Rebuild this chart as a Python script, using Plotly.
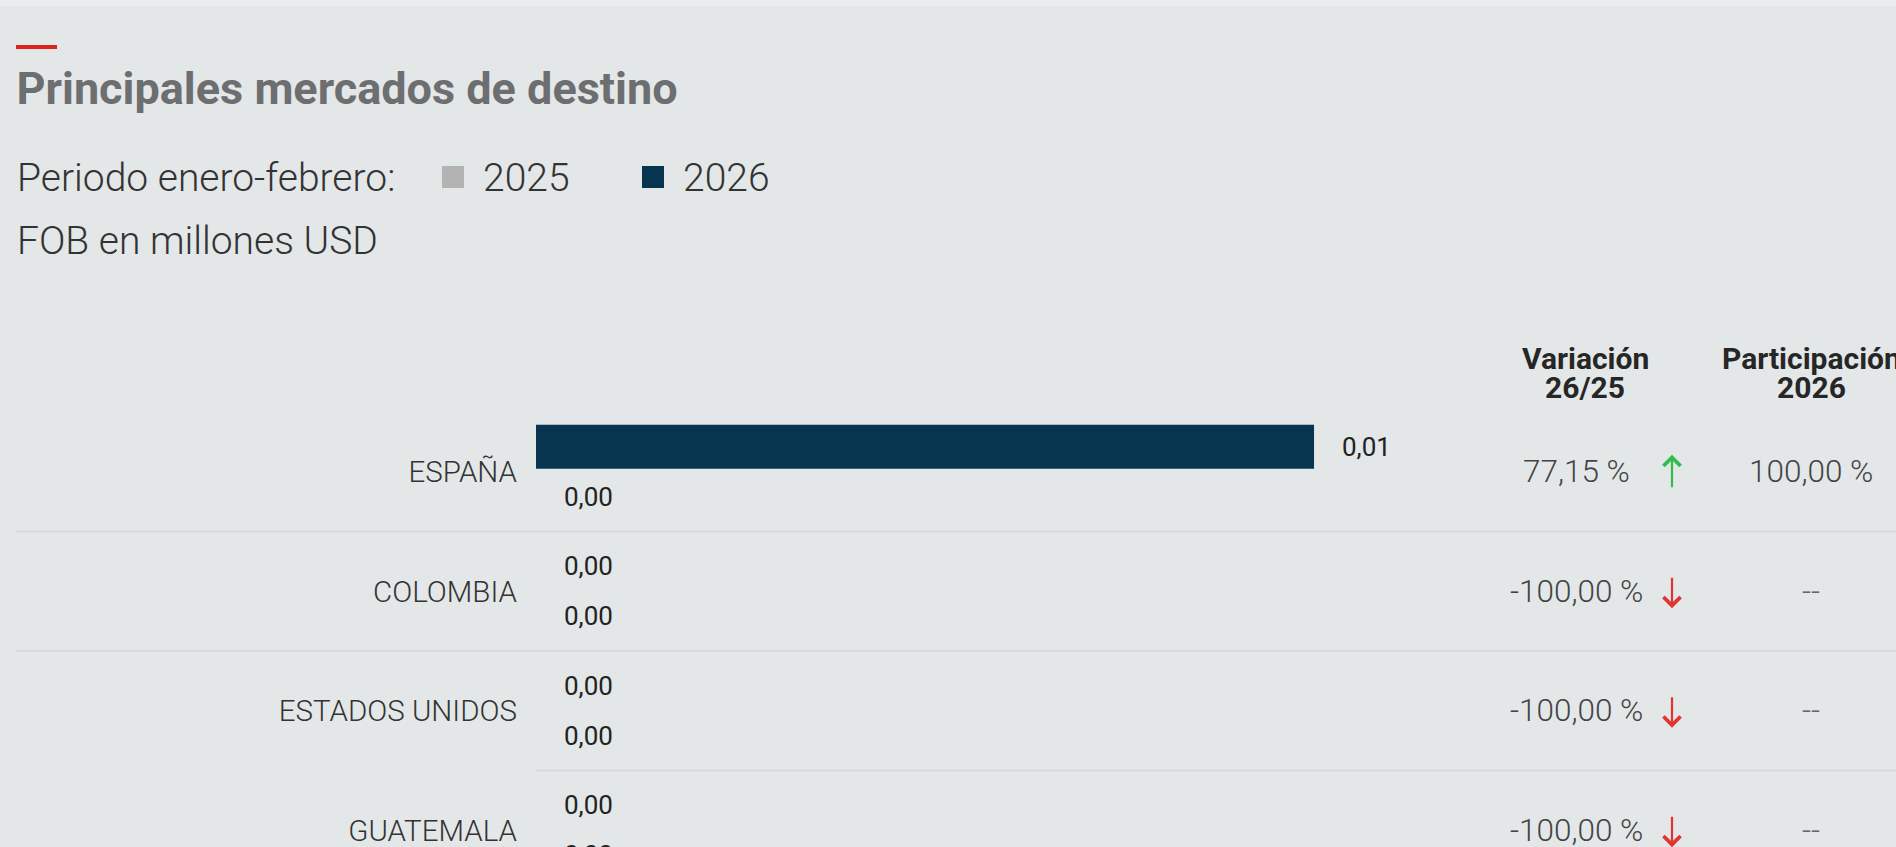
import plotly.graph_objects as go

# ---------------- data ----------------
countries = ["ESPAÑA", "COLOMBIA", "ESTADOS UNIDOS", "GUATEMALA"]
fob_2026 = [0.01, 0.0, 0.0, 0.0]
fob_2025 = [0.0, 0.0, 0.0, 0.0]
variacion = [77.15, -100.00, -100.00, -100.00]
participacion_2026 = [100.00, None, None, None]
years = ["2025", "2026"]

# ---------------- style ----------------
W, H = 1896, 847
TOP = 412
PLOT_H = H - TOP
BG = "#e3e7e8"
NAVY = "#07344f"
GREY = "#b3b3b3"
TXT = "#333333"
FONT = "Roboto"


def px_x(p):
    return p / W


def px_y(p):
    return (H - p) / PLOT_H


def fmt(v, d=2):
    return f"{v:,.{d}f}".replace(",", "X").replace(".", ",").replace("X", ".")


fig = go.Figure()
fig.add_trace(go.Bar(y=countries, x=fob_2026, orientation="h", name=years[1],
                     marker=dict(color=NAVY, line=dict(width=0)),
                     width=0.368, offset=-0.393, hoverinfo="skip"))
fig.add_trace(go.Bar(y=countries, x=fob_2025, orientation="h", name=years[0],
                     marker=dict(color=GREY, line=dict(width=0)),
                     width=0.368, offset=0.025, hoverinfo="skip"))

ann = []
# value labels
for c, v26, v25 in zip(countries, fob_2026, fob_2025):
    for v, ys in ((v26, 25), (v25, -25)):
        ann.append(dict(x=v, y=c, xref="x", yref="y", text=fmt(v), showarrow=False,
                        xanchor="left", yanchor="middle", xshift=26, yshift=ys,
                        font=dict(family=FONT, size=26, color="#222222")))

# variation + participation columns
for c, var, par in zip(countries, variacion, participacion_2026):
    ann.append(dict(x=px_x(1576), y=c, xref="paper", yref="y", text=f"{fmt(var)} %",
                    showarrow=False, xanchor="center", yanchor="middle",
                    font=dict(family=FONT, size=31.5, color="#444444", weight=300)))
    up = var >= 0
    ann.append(dict(x=px_x(1672), y=c, xref="paper", yref="y", text="",
                    showarrow=True, arrowhead=4, arrowsize=1.5, arrowwidth=2.2,
                    arrowcolor="#2ebd4e" if up else "#e3342f",
                    ax=0, ay=34 if up else -32, yshift=17 if up else -17,
                    standoff=0, startstandoff=0))
    ann.append(dict(x=px_x(1811), y=c, xref="paper", yref="y",
                    text=f"{fmt(par)} %" if par is not None else "--",
                    showarrow=False, xanchor="center", yanchor="middle",
                    font=dict(family=FONT, size=31.5,
                              color="#444444" if par is not None else "#666666", weight=300)))

# column headers
for txt, x, y in (("Variación", 1585, 358), ("26/25", 1585, 388),
                  ("Participación", 1811, 358), ("2026", 1811, 388)):
    ann.append(dict(x=px_x(x), y=px_y(y), xref="paper", yref="paper", text=txt,
                    showarrow=False, xanchor="center", yanchor="middle",
                    font=dict(family=FONT, size=30, color="#262626", weight=700)))

# subtitle / legend lines
light = dict(family=FONT, size=39, color=TXT, weight=300)
ann.append(dict(x=px_x(15), y=px_y(178), xref="paper", yref="paper",
                text="Periodo enero-febrero:", showarrow=False,
                xanchor="left", yanchor="middle", font=light))
ann.append(dict(x=px_x(481), y=px_y(178), xref="paper", yref="paper", text=years[0],
                showarrow=False, xanchor="left", yanchor="middle", font=light))
ann.append(dict(x=px_x(681), y=px_y(178), xref="paper", yref="paper", text=years[1],
                showarrow=False, xanchor="left", yanchor="middle", font=light))
ann.append(dict(x=px_x(15), y=px_y(241), xref="paper", yref="paper",
                text="FOB en millones USD", showarrow=False,
                xanchor="left", yanchor="middle", font=light))

shapes = [
    dict(type="rect", xref="paper", yref="paper", x0=0, x1=1, y0=px_y(6), y1=px_y(0),
         fillcolor="#eaeef0", line=dict(width=0), layer="below"),
    dict(type="rect", xref="paper", yref="paper", x0=px_x(16), x1=px_x(57),
         y0=px_y(49), y1=px_y(45), fillcolor="#d9261c", line=dict(width=0)),
    dict(type="rect", xref="paper", yref="paper", x0=px_x(442), x1=px_x(464),
         y0=px_y(188), y1=px_y(166), fillcolor=GREY, line=dict(width=0)),
    dict(type="rect", xref="paper", yref="paper", x0=px_x(642), x1=px_x(664),
         y0=px_y(188), y1=px_y(166), fillcolor=NAVY, line=dict(width=0)),
]
for i, start in ((0.5, 16), (1.5, 16), (2.5, 536)):
    shapes.append(dict(type="line", xref="paper", yref="y", x0=px_x(start), x1=1,
                       y0=i, y1=i, line=dict(color="#d6dadc", width=2), layer="below"))

fig.update_layout(
    width=W, height=H,
    paper_bgcolor=BG, plot_bgcolor=BG,
    margin=dict(l=0, r=0, t=TOP, b=0, pad=0),
    showlegend=False,
    barmode="overlay",
    title=dict(text="<b>Principales mercados de destino</b>",
               x=px_x(16.5), xref="container", xanchor="left",
               y=1 - 88.5 / H, yref="container", yanchor="middle",
               font=dict(family=FONT, size=45, color="#6d6e70")),
    xaxis=dict(domain=[536 / W, 1], range=[0, 0.01748], visible=False, fixedrange=True),
    yaxis=dict(type="category", categoryorder="array", categoryarray=countries,
               range=[(H - TOP) / 119.5 - 0.5, -0.5], autorange=False,
               showgrid=False, zeroline=False, showline=False, ticks="",
               ticklabelstandoff=18, automargin=False,
               tickfont=dict(family=FONT, size=29.5, color=TXT, weight=300)),
    annotations=ann,
    shapes=shapes,
)

fig.write_html(
    "out.html",
    config={"displayModeBar": False},
    post_script="document.body.style.margin='0px';document.body.style.overflow='hidden';"
                "document.body.style.background='#e3e7e8';",
)
